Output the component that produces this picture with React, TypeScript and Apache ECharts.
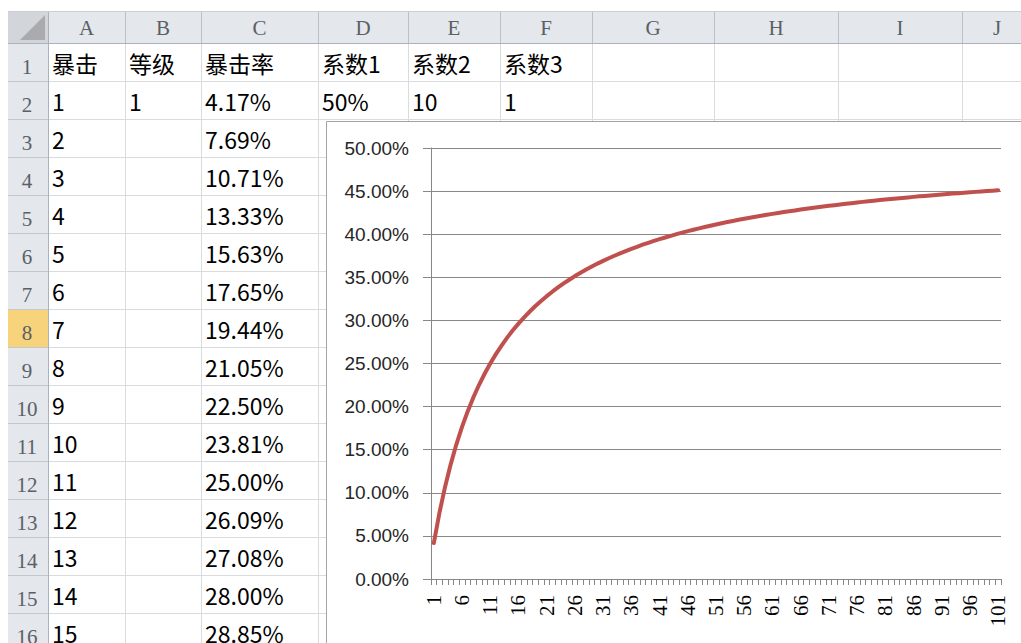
import React, { useEffect, useRef } from 'react';
import * as echarts from 'echarts';

// ---------- data ----------
const columnLetters = ['A', 'B', 'C', 'D', 'E', 'F', 'G', 'H', 'I', 'J'];
const headerCells = ['暴击', '等级', '暴击率', '系数1', '系数2', '系数3'];
const levelCell = '1'; // B2
const paramCells = ['50%', '10', '1']; // D2, E2, F2
const critCounts = [1, 2, 3, 4, 5, 6, 7, 8, 9, 10, 11, 12, 13, 14, 15];
// 暴击率 (%) for 暴击 = 1 .. 101
const critRates = [
  4.17, 7.69, 10.71, 13.33, 15.63, 17.65, 19.44, 21.05, 22.5, 23.81,
  25.0, 26.09, 27.08, 28.0, 28.85, 29.63, 30.36, 31.03, 31.67, 32.26,
  32.81, 33.33, 33.82, 34.29, 34.72, 35.14, 35.53, 35.9, 36.25, 36.59,
  36.9, 37.21, 37.5, 37.78, 38.04, 38.3, 38.54, 38.78, 39.0, 39.22,
  39.42, 39.62, 39.81, 40.0, 40.18, 40.35, 40.52, 40.68, 40.83, 40.98,
  41.13, 41.27, 41.41, 41.54, 41.67, 41.79, 41.91, 42.03, 42.14, 42.25,
  42.36, 42.47, 42.57, 42.67, 42.76, 42.86, 42.95, 43.04, 43.13, 43.21,
  43.29, 43.37, 43.45, 43.53, 43.6, 43.68, 43.75, 43.82, 43.89, 43.96,
  44.02, 44.09, 44.15, 44.21, 44.27, 44.33, 44.39, 44.44, 44.5, 44.55,
  44.61, 44.66, 44.71, 44.76, 44.81, 44.86, 44.91, 44.95, 45.0, 45.05,
  45.09,
];
const categories = critRates.map((_, i) => String(i + 1));
const yMin = 0;
const yMax = 50;
const yStep = 5;

// ---------- layout ----------
const W = 1021;
const H = 643;
const COL_EDGES = [48, 125, 201, 318, 408, 500, 592, 714, 838, 962, 1086];
const SHEET_LEFT = 8;
const HEADER_TOP = 11;
const HEADER_BOTTOM = 43;
const ROW_H = 38;
const VISIBLE_ROWS = 16;
const ACTIVE_ROW = 8;
const CHART_X = 326;
const CHART_Y = 121;

const CELL_FONT = '23px "Noto Sans CJK SC", "Noto Sans", sans-serif';
const HEAD_FONT = '21px "Liberation Serif", "DejaVu Serif", serif';

function txt(text: string, x: number, y: number, font: string, fill: string, align = 'left', z = -10) {
  return {
    type: 'text',
    z,
    silent: true,
    style: {
      text, x, y, font, fill,
      textAlign: align, align,
      textVerticalAlign: 'middle', verticalAlign: 'middle',
    },
  };
}
function ln(x1: number, y1: number, x2: number, y2: number, stroke: string, z = -10) {
  return { type: 'line', z, silent: true, shape: { x1, y1, x2, y2 }, style: { stroke, lineWidth: 1 } };
}

function buildSheet() {
  const els: any[] = [];
  const rowTop = (r: number) => HEADER_BOTTOM + (r - 1) * ROW_H;
  // backgrounds
  els.push({ type: 'rect', z: -12, silent: true, shape: { x: SHEET_LEFT, y: HEADER_TOP, width: W - SHEET_LEFT, height: HEADER_BOTTOM - HEADER_TOP }, style: { fill: '#e4e7eb' } });
  els.push({ type: 'rect', z: -12, silent: true, shape: { x: SHEET_LEFT, y: HEADER_BOTTOM, width: COL_EDGES[0] - SHEET_LEFT, height: H - HEADER_BOTTOM }, style: { fill: '#e4e7eb' } });
  els.push({ type: 'rect', z: -11, silent: true, shape: { x: SHEET_LEFT, y: rowTop(ACTIVE_ROW), width: COL_EDGES[0] - SHEET_LEFT, height: ROW_H }, style: { fill: '#f7d47c' } });
  // corner
  els.push({ type: 'rect', z: -11, silent: true, shape: { x: SHEET_LEFT, y: HEADER_TOP, width: COL_EDGES[0] - SHEET_LEFT, height: HEADER_BOTTOM - HEADER_TOP }, style: { fill: '#d2d5d9' } });
  els.push({ type: 'polygon', z: -10, silent: true, shape: { points: [[20, 40], [45, 40], [45, 15]] }, style: { fill: '#a9abae' } });
  // cell grid lines
  for (let r = 1; r <= VISIBLE_ROWS; r++) {
    const y = rowTop(r) + ROW_H + 0.5;
    const xEnd = y > CHART_Y ? CHART_X : W;
    els.push(ln(COL_EDGES[0], y, xEnd, y, '#dadbdc'));
    els.push(ln(SHEET_LEFT, y, COL_EDGES[0], y, '#c2c8d0'));
  }
  COL_EDGES.slice(1).forEach((e) => {
    const x = e + 0.5;
    const yEnd = e > CHART_X ? CHART_Y : H;
    els.push(ln(x, HEADER_BOTTOM, x, yEnd, '#dadbdc'));
    els.push(ln(x, HEADER_TOP, x, HEADER_BOTTOM, '#b9c0c9'));
  });
  els.push(ln(SHEET_LEFT, HEADER_BOTTOM + 0.5, W, HEADER_BOTTOM + 0.5, '#a9b2bd'));
  els.push(ln(COL_EDGES[0] + 0.5, HEADER_TOP, COL_EDGES[0] + 0.5, H, '#a9b2bd'));
  els.push(ln(SHEET_LEFT, HEADER_TOP + 0.5, W, HEADER_TOP + 0.5, '#c9ced5'));
  // column letters
  columnLetters.forEach((c, i) => {
    const mid = (COL_EDGES[i] + COL_EDGES[i + 1]) / 2;
    els.push(txt(c, i === 9 ? 997 : mid, (HEADER_TOP + HEADER_BOTTOM) / 2 + 1, HEAD_FONT, '#5a5f66', 'center'));
  });
  // row numbers (sit low in their cells, as in Excel)
  for (let r = 1; r <= VISIBLE_ROWS; r++) {
    els.push(txt(String(r), 27, rowTop(r) + ROW_H / 2 + 5, HEAD_FONT, '#5b6068', 'center'));
  }
  // cells
  const cx = (c: number) => COL_EDGES[c] + 4;
  const cy = (r: number) => rowTop(r) + ROW_H / 2 + 1;
  headerCells.forEach((t, i) => els.push(txt(t, cx(i), cy(1), CELL_FONT, '#000')));
  els.push(txt(levelCell, cx(1), cy(2), CELL_FONT, '#000'));
  paramCells.forEach((t, i) => els.push(txt(t, cx(3 + i), cy(2), CELL_FONT, '#000')));
  critCounts.forEach((n, i) => {
    const r = i + 2;
    els.push(txt(String(n), cx(0), cy(r), CELL_FONT, '#000'));
    els.push(txt(critRates[i].toFixed(2) + '%', cx(2), cy(r), CELL_FONT, '#000'));
  });
  // chart box border
  els.push({ type: 'rect', z: -9, silent: true, shape: { x: CHART_X + 0.5, y: CHART_Y + 0.5, width: 800, height: 600 }, style: { fill: 'none', stroke: '#a3a3a3', lineWidth: 1 } });
  return els;
}

export default function App() {
  const ref = useRef<HTMLDivElement>(null);
  useEffect(() => {
    if (!ref.current) return;
    const chart = echarts.init(ref.current, undefined, { renderer: 'svg' });
    const axisGray = '#878787';
    chart.setOption({
      animation: false,
      backgroundColor: '#ffffff',
      graphic: { elements: buildSheet() },
      grid: { left: 431, right: 20, top: 148, bottom: 64, containLabel: false },
      xAxis: {
        type: 'category',
        data: categories,
        boundaryGap: true,
        axisLine: { lineStyle: { color: axisGray, width: 1 } },
        axisTick: { show: true, interval: 0, length: 6, lineStyle: { color: axisGray } },
        axisLabel: {
          interval: 4,
          rotate: 90,
          margin: 16,
          fontFamily: '"Liberation Serif", serif',
          fontSize: 21,
          color: '#000',
        },
        splitLine: { show: false },
      },
      yAxis: {
        type: 'value',
        min: yMin,
        max: yMax,
        interval: yStep,
        axisLine: { show: true, lineStyle: { color: axisGray, width: 1 } },
        axisTick: { show: true, length: 8, lineStyle: { color: axisGray } },
        axisLabel: {
          margin: 22,
          fontFamily: '"Liberation Sans", sans-serif',
          fontSize: 19,
          color: '#262626',
          formatter: (v: number) => v.toFixed(2) + '%',
        },
        splitLine: { show: true, lineStyle: { color: axisGray, width: 1 } },
      },
      series: [
        {
          type: 'line',
          data: critRates,
          showSymbol: false,
          symbol: 'none',
          lineStyle: { color: '#c0504d', width: 4, cap: 'round', join: 'round' },
          itemStyle: { color: '#c0504d' },
          z: 3,
        },
      ],
    });
    return () => chart.dispose();
  }, []);
  return (
    <div
      ref={ref}
      style={{ position: 'fixed', left: 0, top: 0, width: W, height: H, background: '#fff' }}
    />
  );
}
